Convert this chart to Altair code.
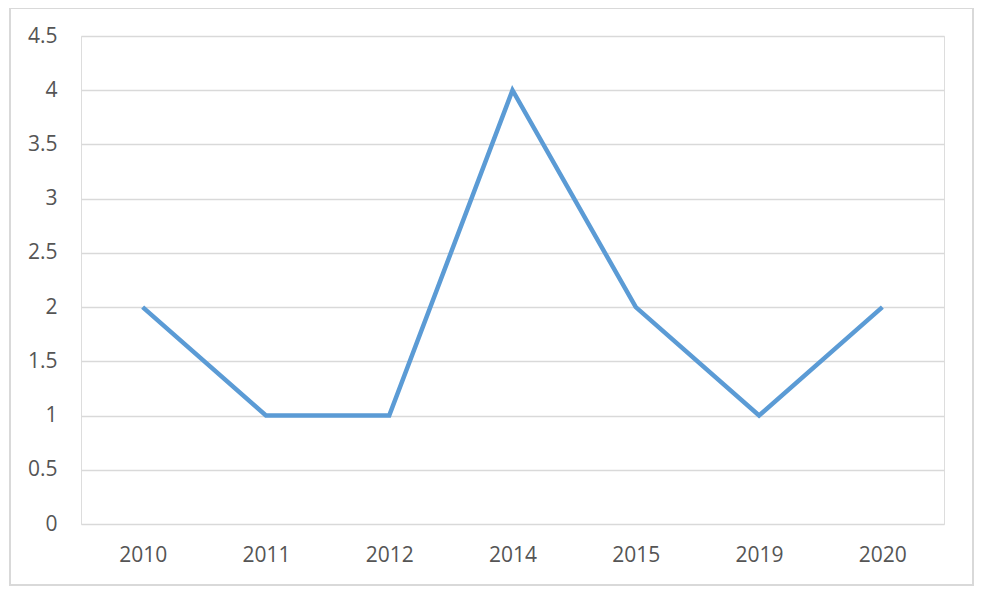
import altair as alt
import pandas as pd

years = ["2010", "2011", "2012", "2014", "2015", "2019", "2020"]
values = [2, 1, 1, 4, 2, 1, 2]
y_ticks = [0, 0.5, 1, 1.5, 2, 2.5, 3, 3.5, 4, 4.5]

df = pd.DataFrame({"year": years, "value": values})

FONT = "Open Sans"
TXT = "#555555"
GRID = "#D9D9D9"

line = alt.Chart(df).mark_line(color="#5B9BD5", strokeWidth=4.5, strokeJoin="miter").encode(
    x=alt.X("year:N", sort=years, title=None,
            scale=alt.Scale(type="point", padding=0.5),
            axis=alt.Axis(domain=False, ticks=False, grid=False, labelAngle=0,
                          labelPadding=20, labelFontSize=21, labelFont=FONT,
                          labelColor=TXT)),
    y=alt.Y("value:Q", title=None,
            scale=alt.Scale(domain=[0, 4.5], nice=False),
            axis=alt.Axis(values=y_ticks, format="~g", domain=False, ticks=False,
                          grid=True, gridColor=GRID, gridWidth=1.6,
                          labelPadding=24, labelFontSize=21, labelFont=FONT,
                          labelColor=TXT)),
)

border = alt.Chart(pd.DataFrame({"a": [0]})).mark_rect(
    fill=None, stroke=GRID, strokeWidth=2
).encode(
    x=alt.value(-71), x2=alt.value(892), y=alt.value(-28), y2=alt.value(549)
)

chart = alt.layer(line, border).properties(
    width=863, height=488,
    autosize=alt.AutoSizeParams(type="none"),
    padding={"left": 73, "top": 28, "right": 30, "bottom": 62},
).configure_view(strokeWidth=0, stroke="transparent").configure(background="white")

chart.save("out.html", embed_options={"renderer": "svg", "actions": False})
